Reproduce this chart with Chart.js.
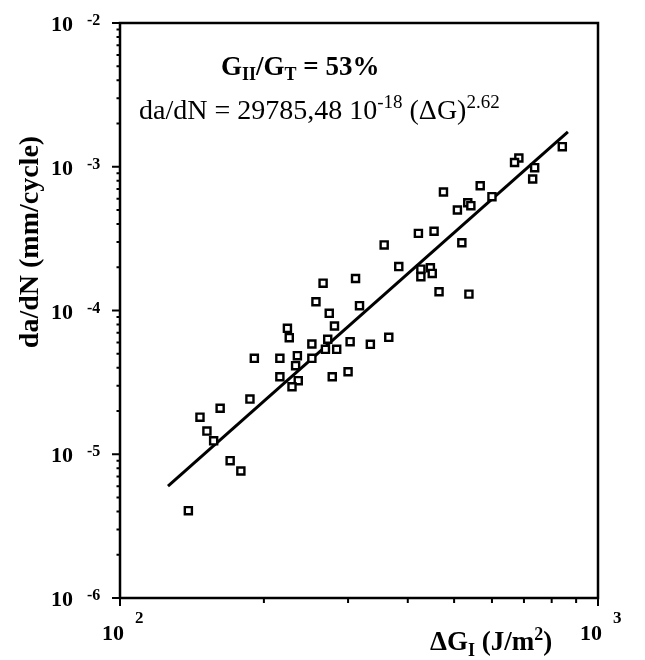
<!DOCTYPE html>
<html>
<head>
<meta charset="utf-8">
<script src="https://cdn.jsdelivr.net/npm/chart.js@4/dist/chart.umd.min.js"></script>
<style>
  html, body { margin: 0; padding: 0; background: #fff; }
  #wrap { width: 645px; height: 660px; position: relative; }
</style>
</head>
<body>
<div id="wrap"><canvas id="crack"></canvas></div>
<script>
const deltaG = [842, 683, 669, 737, 730, 567, 475, 600, 534, 542,
  508, 421, 454, 357, 519, 383, 426, 446, 426, 450,
  465, 537, 311, 266, 257, 317, 274, 224, 226, 281,
  365, 252, 272, 269, 284, 303, 334, 191, 216, 235,
  252, 233, 216, 236, 278, 300, 229, 187, 162, 147,
  152, 157, 170, 179, 139];
const dadN = [1.38e-3, 1.15e-3, 1.07e-3, 9.85e-4, 8.22e-4, 7.38e-4, 6.67e-4, 6.19e-4, 5.62e-4, 5.36e-4,
  5.00e-4, 3.44e-4, 3.56e-4, 2.86e-4, 2.96e-4, 2.02e-4, 1.94e-4, 1.98e-4, 1.72e-4, 1.81e-4,
  1.35e-4, 1.30e-4, 1.67e-4, 1.55e-4, 1.15e-4, 1.08e-4, 9.56e-5, 7.52e-5, 6.47e-5, 7.80e-5,
  6.51e-5, 5.85e-5, 6.31e-5, 5.37e-5, 5.37e-5, 6.07e-5, 5.82e-5, 4.65e-5, 4.65e-5, 4.85e-5,
  4.65e-5, 4.13e-5, 3.46e-5, 3.25e-5, 3.46e-5, 3.75e-5, 2.95e-5, 2.42e-5, 2.09e-5, 1.81e-5,
  1.45e-5, 1.24e-5, 9.02e-6, 7.65e-6, 4.05e-6];

// power-law fit, end points of the drawn line
const fitG = [126, 865];
const fitRate = [6.0e-6, 1.75e-3];

// decade labels
const xTickExps = [2, 3];
const yTickExps = [-2, -3, -4, -5, -6];

const SERIF = '"Liberation Serif", "Times New Roman", serif';

function font(size, bold) {
  return (bold ? 'bold ' : '') + size + 'px ' + SERIF;
}

// draw a list of text pieces one after another (for sub/superscripts)
function drawRuns(ctx, x, y, runs) {
  let cx = x;
  for (const r of runs) {
    ctx.font = font(r.size, r.bold);
    ctx.fillText(r.t, cx, y + (r.dy || 0));
    cx += ctx.measureText(r.t).width;
  }
}

const frame = {
  id: 'frame',
  afterDraw(chart) {
    const { ctx, chartArea: a, scales: { x, y } } = chart;
    ctx.save();
    ctx.strokeStyle = '#000';
    ctx.fillStyle = '#000';
    ctx.lineWidth = 2.5;
    ctx.strokeRect(a.left, a.top, a.right - a.left, a.bottom - a.top);

    // ticks
    ctx.lineWidth = 2;
    ctx.beginPath();
    for (let e = xTickExps[0]; e < xTickExps[xTickExps.length - 1]; e++) {
      for (let m = 1; m <= 10; m++) {
        const px = x.getPixelForValue(m * Math.pow(10, e));
        const len = (m === 1 || m === 10) ? 8 : 5;
        ctx.moveTo(px, a.bottom);
        ctx.lineTo(px, a.bottom + len);
      }
    }
    for (let e = yTickExps[yTickExps.length - 1]; e < yTickExps[0]; e++) {
      for (let m = 1; m <= 10; m++) {
        const py = y.getPixelForValue(m * Math.pow(10, e));
        const len = (m === 1 || m === 10) ? 8 : 3.5;
        ctx.moveTo(a.left, py);
        ctx.lineTo(a.left - len, py);
      }
    }
    ctx.stroke();

    // tick labels
    ctx.textBaseline = 'alphabetic';
    ctx.textAlign = 'left';
    for (const e of yTickExps) {
      const py = y.getPixelForValue(Math.pow(10, e));
      ctx.font = font(22, true);
      ctx.fillText('10', 51, py + 8);
      ctx.font = font(16, true);
      ctx.fillText(String(e), 87, py + 2);
    }
    for (const e of xTickExps) {
      const px = x.getPixelForValue(Math.pow(10, e));
      ctx.font = font(22, true);
      ctx.fillText('10', px - 18, 640);
      ctx.font = font(17, true);
      ctx.fillText(String(e), px + 15, 623);
    }

    // axis titles
    drawRuns(ctx, 430, 650, [
      { t: '\u0394G', size: 27, bold: true },
      { t: 'I', size: 18, bold: true, dy: 6 },
      { t: ' (J/m', size: 27, bold: true },
      { t: '2', size: 18, bold: true, dy: -10 },
      { t: ')', size: 27, bold: true },
    ]);
    ctx.save();
    ctx.translate(38, 242);
    ctx.rotate(-Math.PI / 2);
    ctx.font = font(28, true);
    const yt = 'da/dN (mm/cycle)';
    ctx.fillText(yt, -ctx.measureText(yt).width / 2, 0);
    ctx.restore();

    // annotations
    drawRuns(ctx, 221, 75, [
      { t: 'G', size: 27, bold: true },
      { t: 'II', size: 18, bold: true, dy: 5 },
      { t: '/G', size: 27, bold: true },
      { t: 'T', size: 18, bold: true, dy: 5 },
      { t: ' = 53%', size: 27, bold: true },
    ]);
    drawRuns(ctx, 139, 119, [
      { t: 'da/dN = 29785,48 10', size: 28 },
      { t: '-18', size: 19, dy: -11 },
      { t: ' (\u0394G)', size: 28 },
      { t: '2.62', size: 19, dy: -11 },
    ]);
    ctx.restore();
  },
};

new Chart(document.getElementById('crack'), {
  type: 'scatter',
  data: {
    datasets: [
      {
        label: 'fit',
        type: 'line',
        data: fitG.map((g, i) => ({ x: g, y: fitRate[i] })),
        borderColor: '#000',
        borderWidth: 3,
        pointRadius: 0,
        fill: false,
        order: 2,
      },
      {
        label: 'da/dN',
        data: deltaG.map((g, i) => ({ x: g, y: dadN[i] })),
        pointStyle: 'rect',
        pointRadius: 5,
        borderColor: '#000',
        backgroundColor: '#fff',
        borderWidth: 2.4,
        order: 1,
      },
    ],
  },
  options: {
    responsive: true,
    maintainAspectRatio: false,
    animation: false,
    events: [],
    layout: { padding: { left: 0, right: 47, top: 23, bottom: 0 } },
    plugins: { legend: { display: false }, tooltip: { enabled: false } },
    scales: {
      x: {
        type: 'logarithmic',
        min: 100,
        max: 1000,
        grid: { display: false },
        border: { display: false },
        ticks: { display: false },
        afterFit(scale) { scale.height = 62; },
      },
      y: {
        type: 'logarithmic',
        min: 1e-6,
        max: 1e-2,
        grid: { display: false },
        border: { display: false },
        ticks: { display: false },
        afterFit(scale) { scale.width = 120; },
      },
    },
  },
  plugins: [frame],
});
</script>
</body>
</html>
